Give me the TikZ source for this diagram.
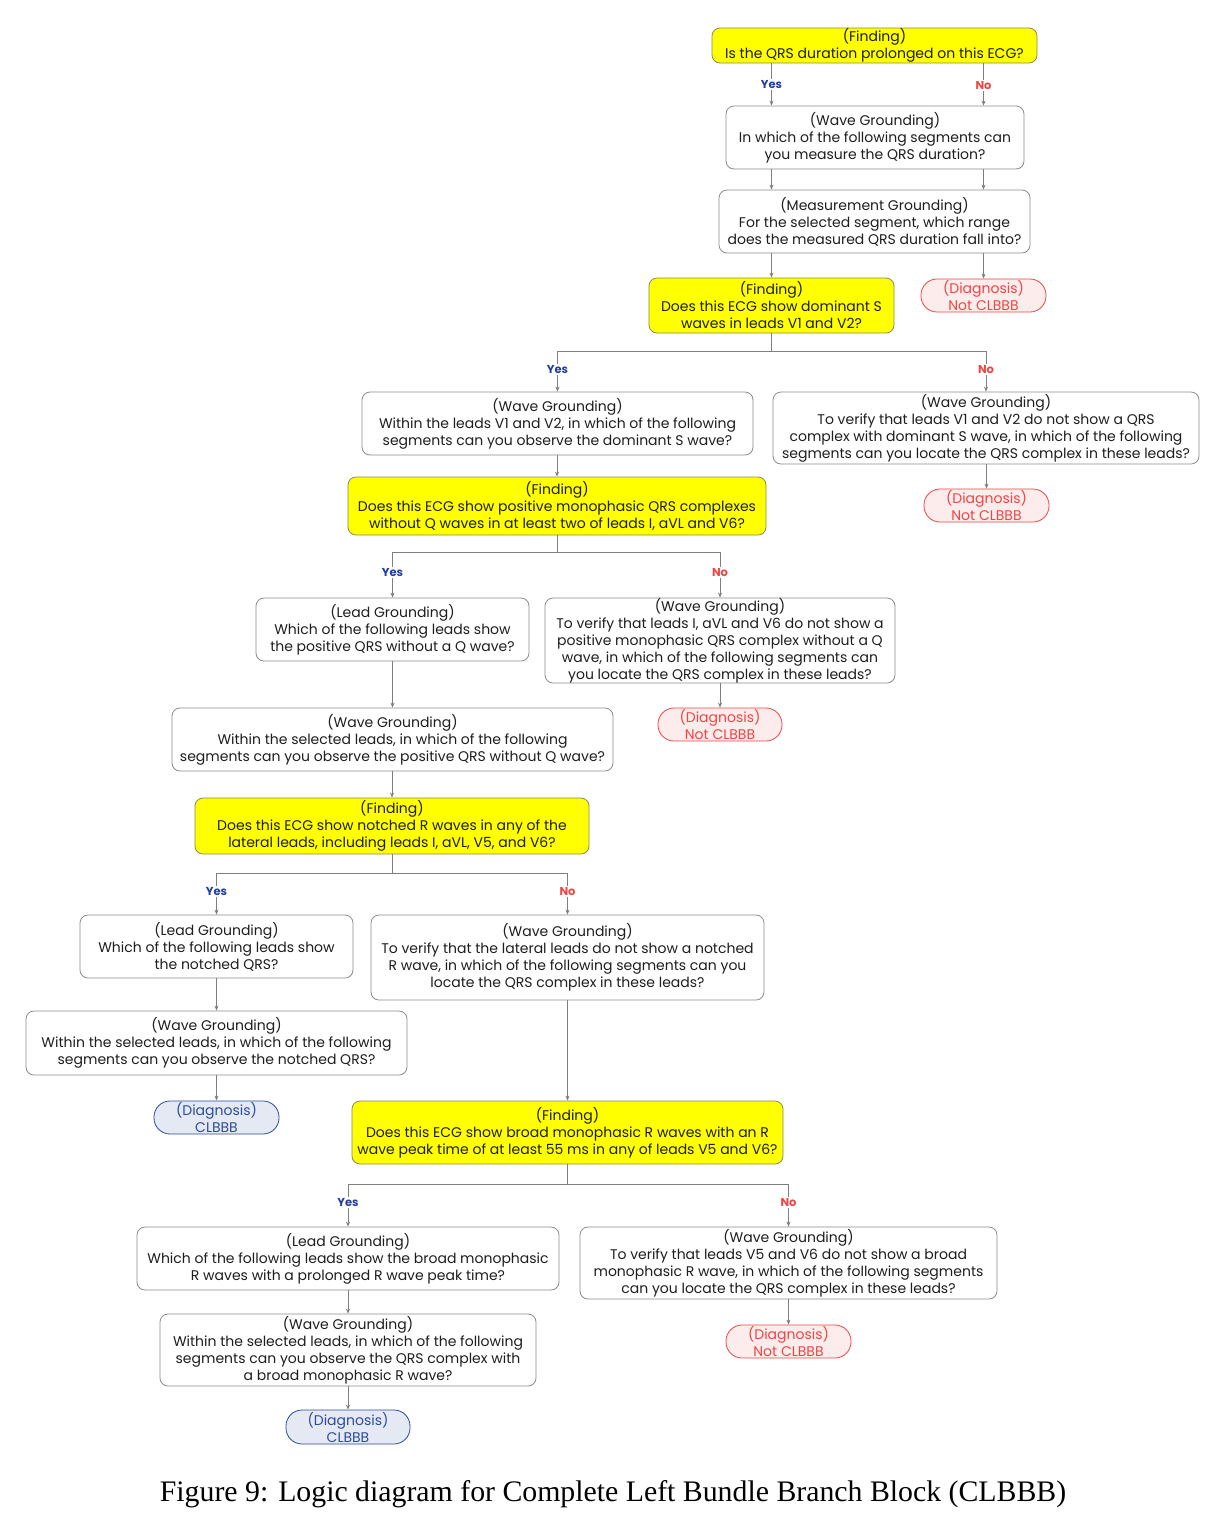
\documentclass[tikz,border=0pt]{standalone}
\usepackage{fontspec}
\setmainfont{Poppins}
\newfontfamily\capfont{Liberation Serif}
\usetikzlibrary{arrows.meta}
\definecolor{yel}{HTML}{FFFF00}
\definecolor{yelborder}{HTML}{8A8A5A}
\definecolor{boxgray}{HTML}{8C8C8C}
\definecolor{txt}{HTML}{1E1E1E}
\definecolor{arrgray}{HTML}{7F7F7F}
\definecolor{yesblue}{HTML}{23409A}
\definecolor{nored}{HTML}{F04545}
\definecolor{nofill}{HTML}{FDECEC}
\definecolor{cfill}{HTML}{E5E9F3}
\definecolor{cblue}{HTML}{2E4C9E}
\tikzset{
  sz/.style 2 args={minimum width=#1pt, minimum height=#2pt},
  box/.style={draw=boxgray, line width=0.8pt, rounded corners=8pt, align=center,
    text=txt, font=\fontsize{14}{17}\selectfont, inner sep=0pt},
  findbox/.style={box, fill=yel, draw=yelborder},
  notbox/.style={box, draw=nored, fill=nofill, text=nored, rounded corners=16pt},
  clbox/.style={box, draw=cblue, fill=cfill, text=cblue, rounded corners=16pt},
  conn/.style={draw=arrgray, line width=0.9pt, -{Stealth[length=5pt,width=4pt]}},
  yeslab/.style={fill=white, text=yesblue, font=\bfseries\fontsize{11.5}{13}\selectfont, inner sep=1.5pt},
  nolab/.style={fill=white, text=nored, font=\bfseries\fontsize{11.5}{13}\selectfont, inner sep=1.5pt},
}
\begin{document}
\begin{tikzpicture}[x=1pt,y=-1pt]
\useasboundingbox[fill=white] (0,0) rectangle (1226,1527);

% top section
\node[findbox, sz={325}{35}] (F1) at (874.5,45.5) {(Finding)\\Is the QRS duration prolonged on this ECG?};
\node[box, sz={298}{63}] (W1) at (875,137.5) {(Wave Grounding)\\In which of the following segments can\\you measure the QRS duration?};
\node[box, sz={311}{63}] (M1) at (874.5,221.5) {(Measurement Grounding)\\For the selected segment, which range\\does the measured QRS duration fall into?};
\node[findbox, sz={245}{55}] (F2) at (771.5,305.5) {(Finding)\\Does this ECG show dominant S\\waves in leads V1 and V2?};
\node[notbox, sz={125}{33}] (D1) at (983.5,295.5) {(Diagnosis)\\Not CLBBB};

\draw[conn] (F1.south -| F2.north) -- node[yeslab]{Yes} (W1.north -| F2.north);
\draw[conn] (F1.south -| D1.north) -- node[nolab, pos=0.53]{No} (W1.north -| D1.north);
\draw[conn] (W1.south -| F2.north) -- (M1.north -| F2.north);
\draw[conn] (W1.south -| D1.north) -- (M1.north -| D1.north);
\draw[conn] (M1.south -| F2.north) -- (F2.north);
\draw[conn] (M1.south -| D1.north) -- (D1.north);

% second level
\node[box, sz={391}{63}] (W2) at (557.5,423.5) {(Wave Grounding)\\Within the leads V1 and V2, in which of the following\\segments can you observe the dominant S wave?};
\node[box, sz={426}{72}] (W3) at (986,428) {(Wave Grounding)\\To verify that leads V1 and V2 do not show a QRS\\complex with dominant S wave, in which of the following\\segments can you locate the QRS complex in these leads?};
\node[notbox, sz={125}{33}] (D2) at (986.5,505.5) {(Diagnosis)\\Not CLBBB};
\node[findbox, sz={418}{58}] (F3) at (557,506) {(Finding)\\Does this ECG show positive monophasic QRS complexes\\without Q waves in at least two of leads I, aVL and V6?};

\draw[conn] (F2.south) -- ++(0,18) -| node[yeslab, pos=0.73]{Yes} (W2.north);
\draw[conn] (F2.south) -- ++(0,18) -| node[nolab, pos=0.73]{No} (W3.north);
\draw[conn] (W3.south -| D2.north) -- (D2.north);
\draw[conn] (W2.south -| F3.north) -- (F3.north);

% third level
\node[box, sz={273}{63}] (L1) at (392.5,629.5) {(Lead Grounding)\\Which of the following leads show\\the positive QRS without a Q wave?};
\node[box, sz={350}{85}] (W4) at (720,640.5) {(Wave Grounding)\\To verify that leads I, aVL and V6 do not show a\\positive monophasic QRS complex without a Q\\wave, in which of the following segments can\\you locate the QRS complex in these leads?};
\node[notbox, sz={124}{33}] (D3) at (720,724.5) {(Diagnosis)\\Not CLBBB};
\node[box, sz={441}{63}] (W5) at (392.5,739.5) {(Wave Grounding)\\Within the selected leads, in which of the following\\segments can you observe the positive QRS without Q wave?};
\node[findbox, sz={394}{56}] (F4) at (392,826) {(Finding)\\Does this ECG show notched R waves in any of the\\lateral leads, including leads I, aVL, V5, and V6?};

\draw[conn] (F3.south) -- ++(0,17) -| node[yeslab, pos=0.72]{Yes} (L1.north);
\draw[conn] (F3.south) -- ++(0,17) -| node[nolab, pos=0.72]{No} (W4.north);
\draw[conn] (W4.south) -- (D3.north);
\draw[conn] (L1.south) -- (W5.north -| L1.south);
\draw[conn] (W5.south -| F4.north) -- (F4.north);

% fourth level
\node[box, sz={273}{63}] (L2) at (216.5,946.5) {(Lead Grounding)\\Which of the following leads show\\the notched QRS?};
\node[box, sz={393}{85}] (W6) at (567.5,957.5) {(Wave Grounding)\\To verify that the lateral leads do not show a notched\\R wave, in which of the following segments can you\\locate the QRS complex in these leads?};
\node[box, sz={381}{64}] (W7) at (216.5,1043) {(Wave Grounding)\\Within the selected leads, in which of the following\\segments can you observe the notched QRS?};
\node[clbox, sz={125}{33}] (D4) at (216.5,1117.5) {(Diagnosis)\\CLBBB};
\node[findbox, sz={431}{63}] (F5) at (567.5,1132.5) {(Finding)\\Does this ECG show broad monophasic R waves with an R\\wave peak time of at least 55 ms in any of leads V5 and V6?};

\draw[conn] (F4.south) -- ++(0,19) -| node[yeslab, pos=0.72]{Yes} (L2.north);
\draw[conn] (F4.south) -- ++(0,19) -| node[nolab, pos=0.72]{No} (W6.north);
\draw[conn] (L2.south) -- (W7.north -| L2.south);
\draw[conn] (W7.south -| D4.north) -- (D4.north);
\draw[conn] (W6.south) -- (F5.north -| W6.south);

% fifth level
\node[box, sz={422}{63}] (L3) at (348,1258.5) {(Lead Grounding)\\Which of the following leads show the broad monophasic\\R waves with a prolonged R wave peak time?};
\node[box, sz={417}{72}] (W8) at (788.5,1263) {(Wave Grounding)\\To verify that leads V5 and V6 do not show a broad\\monophasic R wave, in which of the following segments\\can you locate the QRS complex in these leads?};
\node[box, sz={376}{72}] (W9) at (348,1350) {(Wave Grounding)\\Within the selected leads, in which of the following\\segments can you observe the QRS complex with\\a broad monophasic R wave?};
\node[clbox, sz={124}{34}] (D5) at (348,1427) {(Diagnosis)\\CLBBB};
\node[notbox, sz={125}{33}] (D6) at (788.5,1341.5) {(Diagnosis)\\Not CLBBB};

\draw[conn] (F5.south) -- ++(0,20) -| node[yeslab, pos=0.71]{Yes} (L3.north);
\draw[conn] (F5.south) -- ++(0,20) -| node[nolab, pos=0.71]{No} (W8.north);
\draw[conn] (L3.south) -- (W9.north);
\draw[conn] (W9.south) -- (D5.north);
\draw[conn] (W8.south) -- (D6.north);

% caption
\node[font=\capfont\fontsize{29.8}{32}\selectfont, text=black, inner sep=0pt] (cap) at (613,1494) {Figure 9: Logic diagram for Complete Left Bundle Branch Block (CLBBB)};
\end{tikzpicture}
\end{document}
